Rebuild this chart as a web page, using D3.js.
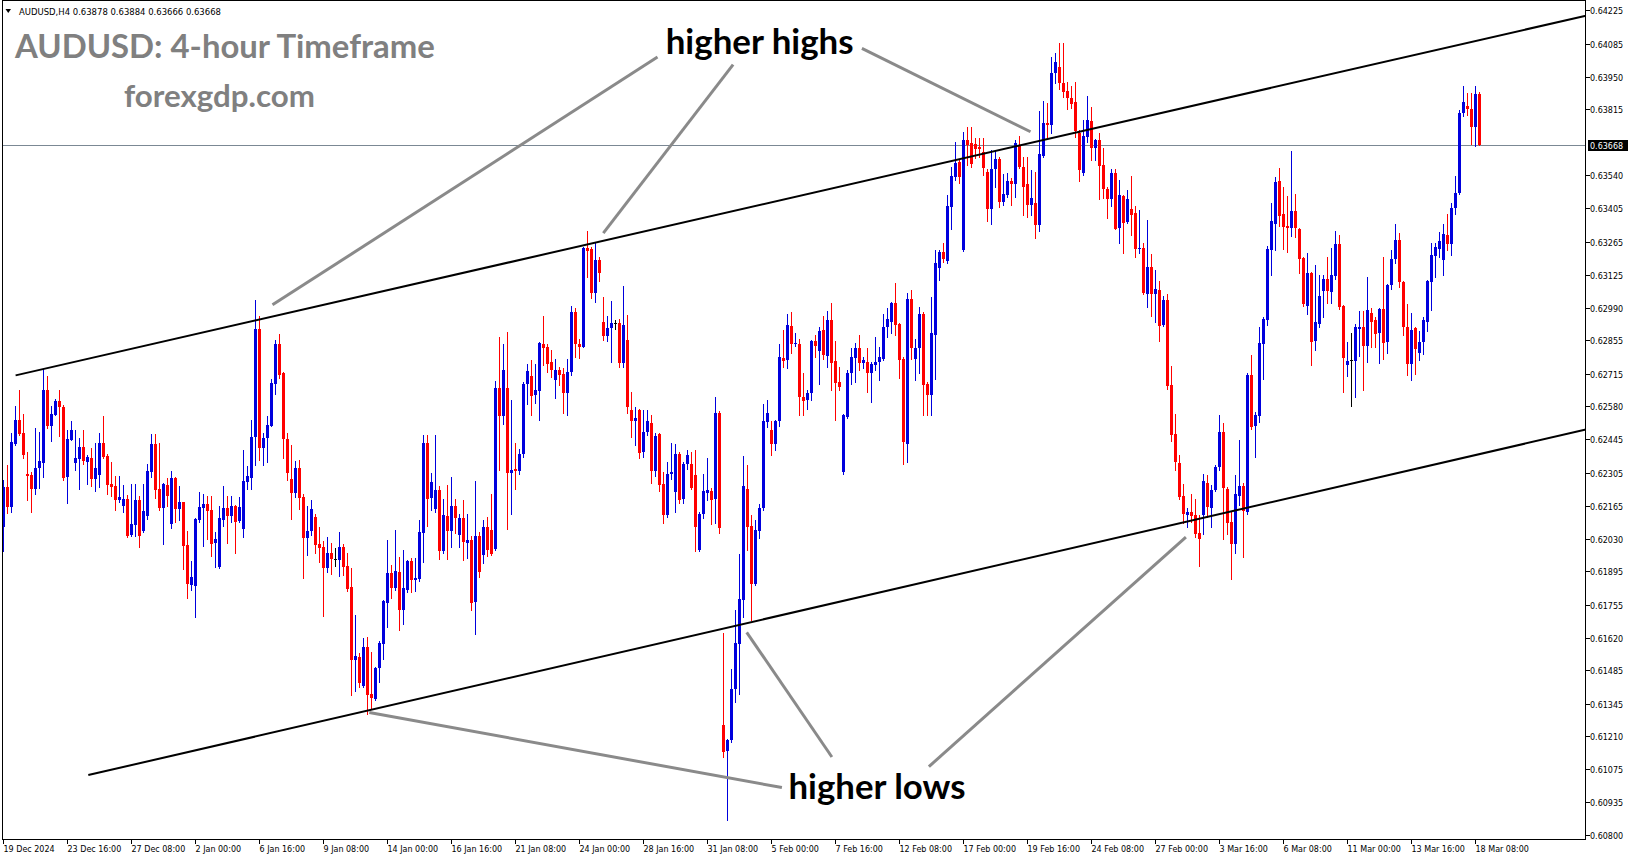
<!DOCTYPE html>
<html><head><meta charset="utf-8">
<script src="https://cdn.jsdelivr.net/npm/d3@7"></script>
<style>html,body{margin:0;padding:0;background:#fff;overflow:hidden}svg{display:block}</style>
</head><body>
<svg id="chart" width="1631" height="861"></svg>
<script>
// ---------- DATA (AUDUSD H4, bar 0 = 19 Dec 2024 00:00) ----------
const opens = [
0.62080,0.62246,0.62163,0.62426,0.62523,0.62468,0.62299,0.62294,0.62236,0.62325,
0.62345,0.62647,0.62498,0.62543,0.62602,0.62578,0.62287,0.62442,0.62345,0.62361,
0.62410,0.62349,0.62365,0.62279,0.62296,0.62427,0.62373,0.62257,0.62249,0.62191,
0.62167,0.62195,0.62045,0.62088,0.62191,0.62061,0.62124,0.62308,0.62423,0.62236,
0.62157,0.62253,0.62091,0.62282,0.62155,0.62182,0.62004,0.61839,0.61833,0.62107,
0.62157,0.62174,0.62149,0.62012,0.61914,0.62107,0.62157,0.62124,0.62166,0.62103,
0.62070,0.62267,0.62282,0.62454,0.62901,0.62409,0.62450,0.62500,0.62674,0.62839,
0.62718,0.62444,0.62278,0.62220,0.62324,0.62203,0.62033,0.62062,0.62120,0.62008,
0.61995,0.61908,0.61971,0.61946,0.61942,0.61995,0.61916,0.61829,0.61526,0.61538,
0.61418,0.61580,0.61384,0.61364,0.61493,0.61592,0.61763,0.61887,0.61825,0.61892,
0.61734,0.61817,0.61937,0.61858,0.61862,0.62053,0.62427,0.62199,0.62155,0.62232,
0.61979,0.62124,0.62062,0.62166,0.62045,0.62116,0.62012,0.62024,0.61767,0.62041,
0.61962,0.62080,0.62066,0.61986,0.62655,0.62540,0.62655,0.62304,0.62322,0.62313,
0.62382,0.62672,0.62706,0.62627,0.62645,0.62841,0.62828,0.62765,0.62689,0.62733,
0.62714,0.62637,0.62724,0.62973,0.62841,0.62828,0.63239,0.63233,0.63052,0.63190,
0.62930,0.62872,0.62907,0.62925,0.62925,0.62761,0.62855,0.62564,0.62520,0.62564,
0.62391,0.62474,0.62513,0.62312,0.62465,0.62257,0.62128,0.62301,0.62225,0.62382,
0.62197,0.62340,0.62340,0.62294,0.61983,0.62135,0.62221,0.62228,0.62197,0.62551,
0.61256,0.61149,0.61193,0.61408,0.61595,0.61775,0.62239,0.62083,0.61842,0.62062,
0.62159,0.62516,0.62484,0.62422,0.62520,0.62780,0.62772,0.62914,0.62841,0.62841,
0.62620,0.62606,0.62634,0.62853,0.62811,0.62897,0.62791,0.62938,0.62770,0.62682,
0.62308,0.62537,0.62717,0.62783,0.62821,0.62759,0.62765,0.62720,0.62752,0.62765,
0.62779,0.62908,0.62932,0.63011,0.62922,0.62779,0.62426,0.63028,0.62779,0.62821,
0.62966,0.62675,0.62627,0.62876,0.63153,0.63222,0.63185,0.63409,0.63534,0.63596,
0.63229,0.63686,0.63673,0.63670,0.63659,0.63638,0.63555,0.63402,0.63565,0.63606,
0.63430,0.63458,0.63517,0.63506,0.63666,0.63576,0.63503,0.63416,0.63423,0.63333,
0.63620,0.63757,0.63749,0.63963,0.63991,0.63925,0.63891,0.63860,0.63846,0.63717,
0.63551,0.63700,0.63765,0.63654,0.63686,0.63582,0.63485,0.63441,0.63551,0.63322,
0.63453,0.63347,0.63402,0.63382,0.63232,0.63239,0.63047,0.63160,0.63046,0.63063,
0.62918,0.63021,0.62668,0.62465,0.62346,0.62207,0.62128,0.62140,0.62128,0.62055,
0.62128,0.62262,0.62160,0.62235,0.62329,0.62474,0.62239,0.62100,0.62010,0.62207,
0.62249,0.62142,0.62710,0.62498,0.62540,0.62839,0.62941,0.63229,0.63337,0.63516,
0.63379,0.63330,0.63323,0.63391,0.63316,0.63197,0.62998,0.63135,0.62852,0.62922,
0.63060,0.63111,0.63056,0.63121,0.63254,0.62998,0.62751,0.62772,0.62770,0.62900,
0.62908,0.62830,0.62969,0.62938,0.62883,0.62986,0.62848,0.63084,0.63194,0.63271,
0.63097,0.62908,0.62755,0.62904,0.62802,0.62848,0.62931,0.63098,0.63204,0.63236,
0.63188,0.63292,0.63254,0.63405,0.63465,0.63797,0.63828,0.63814,0.63741,0.63878];

const highs = [
0.62274,0.62336,0.62468,0.62581,0.62650,0.62548,0.62391,0.62308,0.62492,0.62473,
0.62737,0.62705,0.62581,0.62610,0.62647,0.62585,0.62484,0.62518,0.62484,0.62449,
0.62481,0.62377,0.62409,0.62428,0.62468,0.62540,0.62384,0.62348,0.62290,0.62290,
0.62253,0.62213,0.62257,0.62257,0.62207,0.62257,0.62340,0.62465,0.62465,0.62427,
0.62262,0.62283,0.62311,0.62287,0.62250,0.62185,0.62062,0.61937,0.62117,0.62224,
0.62215,0.62207,0.62207,0.62058,0.62167,0.62249,0.62207,0.62207,0.62170,0.62204,
0.62398,0.62332,0.62523,0.63022,0.62955,0.62468,0.62540,0.62692,0.62855,0.62880,
0.62722,0.62469,0.62419,0.62353,0.62357,0.62216,0.62166,0.62191,0.62133,0.62079,
0.62022,0.62037,0.62012,0.61991,0.62058,0.62008,0.61971,0.61908,0.61713,0.61555,
0.61617,0.61621,0.61559,0.61497,0.61605,0.61775,0.62024,0.61921,0.62066,0.61954,
0.61983,0.61941,0.61950,0.61950,0.62108,0.62461,0.62460,0.62303,0.62461,0.62249,
0.62195,0.62253,0.62286,0.62195,0.62133,0.62191,0.62133,0.62041,0.62270,0.62060,
0.62110,0.62120,0.62218,0.62685,0.62869,0.62841,0.62890,0.62606,0.62429,0.62405,
0.62680,0.62756,0.62772,0.62756,0.62849,0.62955,0.62839,0.62814,0.62779,0.62745,
0.62738,0.62779,0.62997,0.62990,0.62862,0.63243,0.63308,0.63243,0.63257,0.63201,
0.63035,0.62955,0.63017,0.62941,0.62945,0.63080,0.62959,0.62641,0.62578,0.62571,
0.62564,0.62564,0.62546,0.62470,0.62470,0.62308,0.62350,0.62430,0.62426,0.62389,
0.62350,0.62400,0.62392,0.62398,0.62142,0.62301,0.62364,0.62243,0.62620,0.62560,
0.61637,0.61200,0.61491,0.61736,0.61969,0.62373,0.62336,0.62128,0.62107,0.62174,
0.62592,0.62606,0.62520,0.62525,0.62841,0.62897,0.62966,0.62973,0.62883,0.62860,
0.62717,0.62650,0.62856,0.62876,0.62911,0.62955,0.62976,0.63011,0.62850,0.62745,
0.62550,0.62731,0.62821,0.62842,0.62876,0.62787,0.62821,0.62765,0.62869,0.62828,
0.62966,0.62987,0.63015,0.63091,0.62925,0.62787,0.63052,0.63063,0.62862,0.62994,
0.62973,0.62682,0.63035,0.63229,0.63229,0.63257,0.63458,0.63576,0.63680,0.63603,
0.63721,0.63739,0.63739,0.63693,0.63697,0.63697,0.63565,0.63645,0.63642,0.63617,
0.63545,0.63548,0.63527,0.63686,0.63703,0.63617,0.63617,0.63562,0.63555,0.63808,
0.63850,0.63840,0.64030,0.64046,0.64088,0.64088,0.63929,0.63911,0.63929,0.63730,
0.63769,0.63870,0.63825,0.63690,0.63714,0.63654,0.63490,0.63566,0.63566,0.63520,
0.63458,0.63481,0.63537,0.63412,0.63395,0.63257,0.63354,0.63213,0.63146,0.63100,
0.63038,0.63046,0.62747,0.62548,0.62377,0.62257,0.62160,0.62215,0.62197,0.62128,
0.62301,0.62295,0.62253,0.62336,0.62544,0.62512,0.62246,0.62140,0.62294,0.62440,
0.62260,0.62717,0.62793,0.62558,0.62908,0.62952,0.63246,0.63426,0.63534,0.63571,
0.63492,0.63453,0.63642,0.63462,0.63320,0.63200,0.63218,0.63140,0.63167,0.63125,
0.63125,0.63201,0.63240,0.63308,0.63291,0.63000,0.62848,0.62883,0.62922,0.62977,
0.62977,0.63118,0.62990,0.62952,0.62990,0.63201,0.63087,0.63229,0.63337,0.63301,
0.63100,0.63005,0.62969,0.62911,0.62894,0.62952,0.63107,0.63257,0.63257,0.63305,
0.63337,0.63381,0.63423,0.63537,0.63811,0.63910,0.63880,0.63883,0.63910,0.63884];

const lows = [
0.61980,0.62138,0.62142,0.62419,0.62461,0.62364,0.62191,0.62140,0.62215,0.62241,
0.62287,0.62492,0.62437,0.62543,0.62458,0.62276,0.62179,0.62440,0.62315,0.62236,
0.62340,0.62259,0.62251,0.62229,0.62246,0.62364,0.62218,0.62207,0.62149,0.62182,
0.62140,0.62038,0.62041,0.62041,0.61996,0.62059,0.62111,0.62287,0.62199,0.62149,
0.62008,0.62167,0.62074,0.62099,0.62107,0.61904,0.61785,0.61817,0.61704,0.62101,
0.62001,0.62031,0.61958,0.61914,0.61911,0.62085,0.62012,0.62101,0.61970,0.62099,
0.62037,0.62238,0.62238,0.62336,0.62357,0.62336,0.62349,0.62499,0.62631,0.62700,
0.62365,0.62274,0.62112,0.62203,0.62153,0.61867,0.61962,0.62045,0.61971,0.61933,
0.61709,0.61892,0.61883,0.61917,0.61875,0.61879,0.61813,0.61380,0.61397,0.61414,
0.61414,0.61301,0.61326,0.61360,0.61434,0.61530,0.61663,0.61784,0.61817,0.61651,
0.61676,0.61808,0.61808,0.61812,0.61855,0.61933,0.62083,0.62149,0.62140,0.61946,
0.61970,0.61946,0.61995,0.62054,0.61995,0.61941,0.61950,0.61734,0.61634,0.61870,
0.61930,0.61960,0.61962,0.61983,0.62315,0.62509,0.62073,0.62135,0.62239,0.62300,
0.62370,0.62592,0.62544,0.62595,0.62523,0.62754,0.62724,0.62703,0.62616,0.62668,
0.62551,0.62544,0.62710,0.62786,0.62783,0.62825,0.63118,0.63031,0.63015,0.63102,
0.62855,0.62850,0.62765,0.62900,0.62745,0.62745,0.62551,0.62454,0.62419,0.62364,
0.62370,0.62460,0.62263,0.62290,0.62230,0.62096,0.62120,0.62280,0.62142,0.62180,
0.62180,0.62320,0.62238,0.61980,0.61980,0.62118,0.62190,0.62091,0.62094,0.62055,
0.61124,0.60861,0.61186,0.61353,0.61387,0.61706,0.61983,0.61695,0.61837,0.62035,
0.62150,0.62495,0.62377,0.62398,0.62500,0.62744,0.62738,0.62800,0.62830,0.62544,
0.62544,0.62570,0.62606,0.62786,0.62675,0.62779,0.62745,0.62648,0.62523,0.62648,
0.62300,0.62530,0.62675,0.62682,0.62731,0.62738,0.62641,0.62599,0.62731,0.62689,
0.62772,0.62869,0.62883,0.62876,0.62700,0.62343,0.62350,0.62779,0.62689,0.62717,
0.62544,0.62544,0.62544,0.62696,0.63105,0.63181,0.63177,0.63319,0.63520,0.63509,
0.63226,0.63583,0.63576,0.63610,0.63617,0.63541,0.63351,0.63337,0.63492,0.63409,
0.63416,0.63450,0.63416,0.63451,0.63569,0.63375,0.63365,0.63375,0.63278,0.63310,
0.63617,0.63700,0.63717,0.63922,0.63900,0.63864,0.63814,0.63820,0.63700,0.63517,
0.63540,0.63679,0.63603,0.63603,0.63440,0.63444,0.63364,0.63412,0.63315,0.63257,
0.63218,0.63343,0.63292,0.63199,0.63218,0.63049,0.62994,0.62955,0.62931,0.62852,
0.62913,0.62654,0.62437,0.62315,0.62197,0.62096,0.62080,0.62100,0.62038,0.61916,
0.62052,0.62121,0.62080,0.62230,0.62318,0.62031,0.62052,0.61865,0.61972,0.62170,
0.61955,0.62135,0.62488,0.62370,0.62516,0.62696,0.62918,0.63125,0.63229,0.63329,
0.63236,0.63222,0.63289,0.63284,0.63135,0.62996,0.62963,0.62751,0.62816,0.62911,
0.62952,0.63010,0.63010,0.63111,0.62983,0.62640,0.62706,0.62581,0.62620,0.62789,
0.62650,0.62765,0.62827,0.62827,0.62761,0.62779,0.62802,0.63066,0.63176,0.63077,
0.62876,0.62710,0.62689,0.62714,0.62775,0.62797,0.62894,0.62980,0.63118,0.63201,
0.63125,0.63229,0.63208,0.63379,0.63462,0.63786,0.63790,0.63670,0.63661,0.63666];

const closes = [
0.62246,0.62163,0.62433,0.62523,0.62465,0.62378,0.62292,0.62236,0.62326,0.62352,
0.62647,0.62498,0.62548,0.62602,0.62578,0.62281,0.62444,0.62481,0.62365,0.62410,
0.62354,0.62370,0.62279,0.62323,0.62427,0.62369,0.62254,0.62246,0.62191,0.62203,
0.62195,0.62041,0.62091,0.62191,0.62041,0.62144,0.62311,0.62423,0.62233,0.62157,
0.62257,0.62207,0.62282,0.62153,0.62182,0.62001,0.61842,0.61871,0.62112,0.62162,
0.62174,0.62144,0.62008,0.62029,0.62116,0.62157,0.62124,0.62166,0.62099,0.62162,
0.62270,0.62290,0.62452,0.62901,0.62409,0.62450,0.62502,0.62677,0.62839,0.62711,
0.62444,0.62303,0.62220,0.62324,0.62199,0.62033,0.62062,0.62153,0.62004,0.61991,
0.61908,0.61971,0.61946,0.61946,0.61995,0.61912,0.61821,0.61526,0.61542,0.61430,
0.61580,0.61380,0.61368,0.61493,0.61597,0.61771,0.61887,0.61825,0.61896,0.61734,
0.61825,0.61937,0.61858,0.61866,0.62058,0.62427,0.62195,0.62265,0.62232,0.61979,
0.62128,0.62062,0.62166,0.62116,0.62116,0.62016,0.62024,0.61763,0.62041,0.61893,
0.62080,0.61983,0.61969,0.62655,0.62540,0.62731,0.62304,0.62318,0.62313,0.62382,
0.62672,0.62726,0.62625,0.62648,0.62844,0.62823,0.62758,0.62731,0.62733,0.62710,
0.62637,0.62724,0.62973,0.62841,0.62825,0.63239,0.63226,0.63052,0.63190,0.63135,
0.62872,0.62907,0.62927,0.62925,0.62761,0.62918,0.62576,0.62520,0.62530,0.62387,
0.62472,0.62519,0.62312,0.62456,0.62253,0.62128,0.62301,0.62308,0.62382,0.62190,
0.62343,0.62380,0.62243,0.62080,0.62135,0.62229,0.62232,0.62193,0.62551,0.62076,
0.61145,0.61196,0.61408,0.61598,0.61782,0.62249,0.62080,0.61842,0.62066,0.62159,
0.62519,0.62551,0.62422,0.62520,0.62786,0.62768,0.62918,0.62841,0.62845,0.62620,
0.62603,0.62634,0.62853,0.62830,0.62893,0.62793,0.62938,0.62761,0.62678,0.62662,
0.62544,0.62717,0.62786,0.62821,0.62761,0.62775,0.62720,0.62758,0.62765,0.62786,
0.62911,0.62945,0.63011,0.62918,0.62772,0.62433,0.63028,0.62821,0.62821,0.62966,
0.62668,0.62627,0.62883,0.63177,0.63222,0.63191,0.63412,0.63537,0.63592,0.63531,
0.63686,0.63666,0.63589,0.63648,0.63648,0.63569,0.63402,0.63565,0.63606,0.63430,
0.63462,0.63517,0.63506,0.63675,0.63573,0.63492,0.63416,0.63444,0.63333,0.63628,
0.63758,0.63750,0.63966,0.64012,0.63922,0.63887,0.63860,0.63836,0.63725,0.63562,
0.63703,0.63769,0.63654,0.63686,0.63580,0.63483,0.63441,0.63551,0.63319,0.63458,
0.63343,0.63440,0.63377,0.63232,0.63239,0.63052,0.63160,0.63046,0.63067,0.62913,
0.63021,0.62664,0.62461,0.62350,0.62204,0.62135,0.62142,0.62125,0.62049,0.62031,
0.62269,0.62163,0.62235,0.62329,0.62474,0.62243,0.62094,0.62010,0.62215,0.62249,
0.62146,0.62710,0.62495,0.62544,0.62842,0.62945,0.63232,0.63350,0.63513,0.63372,
0.63326,0.63323,0.63391,0.63323,0.63194,0.63005,0.63135,0.62848,0.62931,0.63038,
0.63109,0.63060,0.63125,0.63254,0.62991,0.62783,0.62768,0.62772,0.62908,0.62911,
0.62830,0.62980,0.62931,0.62880,0.62984,0.62844,0.63084,0.63194,0.63271,0.63097,
0.62908,0.62755,0.62897,0.62820,0.62848,0.62938,0.63102,0.63208,0.63243,0.63268,
0.63296,0.63254,0.63405,0.63465,0.63800,0.63843,0.63814,0.63741,0.63877,0.63668];

const xTickLabels = ["19 Dec 2024","23 Dec 16:00","27 Dec 08:00","2 Jan 00:00","6 Jan 16:00","9 Jan 08:00",
"14 Jan 00:00","16 Jan 16:00","21 Jan 08:00","24 Jan 00:00","28 Jan 16:00","31 Jan 08:00","5 Feb 00:00",
"7 Feb 16:00","12 Feb 08:00","17 Feb 00:00","19 Feb 16:00","24 Feb 08:00","27 Feb 00:00","3 Mar 16:00",
"6 Mar 08:00","11 Mar 00:00","13 Mar 16:00","18 Mar 08:00"];
const barsPerXTick = 16;
const yTickValues = [0.64225,0.64085,0.63950,0.63815,0.63540,0.63405,0.63265,0.63125,0.62990,0.62855,
0.62715,0.62580,0.62445,0.62305,0.62165,0.62030,0.61895,0.61755,0.61620,0.61485,0.61345,0.61210,
0.61075,0.60935,0.60800];
const lastPrice = 0.63668;
const headerText = "AUDUSD,H4  0.63878 0.63884 0.63666 0.63668";
const titleText = "AUDUSD: 4-hour Timeframe";
const siteText = "forexgdp.com";

// trend channel lines: [bar index, price]
const upperChannel = [[3.03, 0.62709], [395.6, 0.64203]];
const lowerChannel = [[21.2, 0.61049], [395.6, 0.62484]];
// annotation labels (left baseline anchor, in bar index / price)
const highsNote = {text: "higher highs", bar: 165.55, price: 0.64044, width: 188};
const lowsNote  = {text: "higher lows",  bar: 196.25, price: 0.60950, width: 177};
const highsPointers = [
  [[163.5, 0.64031], [67.25, 0.63002]],
  [[182.4, 0.64000], [149.95, 0.63300]],
  [[214.6, 0.64067], [256.75, 0.63721]]];
const lowsPointers = [
  [[194.6, 0.60997], [91.45, 0.61309]],
  [[207.1, 0.61124], [185.8, 0.61642]],
  [[231.35, 0.61084], [295.6, 0.62037]]];

// ---------- DRAW ----------
const bull = "#0000dd", bear = "#ff0000";
const axisX = 1585.5, frameBottom = 839.5, frameLeft = 2.5;
const svg = d3.select("#chart");
const x = d3.scaleLinear().domain([-0.875, 395.625]).range([0, 1586]);
const y = d3.scaleLinear().domain([0.60800, 0.64225]).range([835, 10.4]);
const uiFont = "'DejaVu Sans', sans-serif";

svg.append("defs").append("clipPath").attr("id","plotclip")
  .append("rect").attr("x",frameLeft).attr("y",0).attr("width",axisX-frameLeft).attr("height",frameBottom);

// current price line
svg.append("line").attr("x1",frameLeft).attr("x2",axisX).attr("y1",Math.round(y(lastPrice))+0.5).attr("y2",Math.round(y(lastPrice))+0.5)
  .attr("stroke","#7b8894").attr("stroke-width",1).attr("shape-rendering","crispEdges");

const candles = closes.map((c,i)=>({i, o:opens[i], h:highs[i], l:lows[i], c}));
const col = d => d.c > d.o ? bull : (d.c < d.o ? bear : "#000");
const cg = svg.append("g").attr("clip-path","url(#plotclip)").attr("shape-rendering","crispEdges");
cg.selectAll("line.wick").data(candles).join("line").attr("class","wick")
  .attr("x1",d=>x(d.i)).attr("x2",d=>x(d.i))
  .attr("y1",d=>Math.round(y(d.h))).attr("y2",d=>Math.round(y(d.l))+1)
  .attr("stroke",col).attr("stroke-width",1);
cg.selectAll("rect.body").data(candles).join("rect").attr("class","body")
  .attr("x",d=>x(d.i)-1.5).attr("width",3)
  .attr("y",d=>Math.round(y(Math.max(d.o,d.c))))
  .attr("height",d=>Math.max(1, Math.round(y(Math.min(d.o,d.c))) - Math.round(y(Math.max(d.o,d.c)))))
  .attr("fill",col);

// channel lines
const lineGen = d3.line().x(d=>x(d[0])).y(d=>y(d[1]));
const og = svg.append("g").attr("clip-path","url(#plotclip)");
[upperChannel, lowerChannel].forEach(l=>{
  og.append("path").attr("d",lineGen(l)).attr("stroke","#000").attr("stroke-width",2).attr("fill","none");
});
// pointer lines
[...highsPointers, ...lowsPointers].forEach(l=>{
  og.append("path").attr("d",lineGen(l)).attr("stroke","#8a8a8a").attr("stroke-width",3).attr("fill","none");
});

function fitWidth(t, w){
  const m = t.node().getComputedTextLength();
  if (m>0) t.attr("font-size", parseFloat(t.attr("font-size"))*w/m);
}
[highsNote, lowsNote].forEach(n=>{
  const t = svg.append("text").attr("x",x(n.bar)).attr("y",y(n.price))
    .attr("font-family","Lato, 'Open Sans', sans-serif").attr("font-weight","bold")
    .attr("font-size",32).attr("fill","#000").text(n.text);
  fitWidth(t, n.width);
});

// title texts
const t1 = svg.append("text").attr("x",15).attr("y",58).attr("font-family","Lato, 'Open Sans', sans-serif")
  .attr("font-weight","bold").attr("font-size",32).attr("fill","#808080").text(titleText);
fitWidth(t1, 420);
const t2 = svg.append("text").attr("x",124).attr("y",106.5).attr("font-family","Lato, 'Open Sans', sans-serif")
  .attr("font-weight","bold").attr("font-size",28).attr("fill","#808080").text(siteText);
fitWidth(t2, 191);

// header
svg.append("path").attr("d","M5.5,9 L11,9 L8.25,13 Z").attr("fill","#000");
const th = svg.append("text").attr("x",19).attr("y",14.5).attr("font-family",uiFont).attr("font-size",8).attr("fill","#000").text(headerText);
fitWidth(th, 202);

// frame
const fg = svg.append("g").attr("shape-rendering","crispEdges").attr("stroke","#000").attr("fill","none");
fg.append("line").attr("x1",frameLeft).attr("x2",frameLeft).attr("y1",0).attr("y2",frameBottom);
fg.append("line").attr("x1",frameLeft).attr("x2",axisX).attr("y1",0.5).attr("y2",0.5);
fg.append("line").attr("x1",frameLeft).attr("x2",axisX).attr("y1",frameBottom).attr("y2",frameBottom);
fg.append("line").attr("x1",axisX).attr("x2",axisX).attr("y1",0).attr("y2",frameBottom);

// price axis
const ya = svg.append("g");
yTickValues.forEach(v=>{
  const yy = Math.round(y(v))+0.5;
  ya.append("line").attr("x1",axisX).attr("x2",axisX+4).attr("y1",yy).attr("y2",yy).attr("stroke","#000").attr("shape-rendering","crispEdges");
  ya.append("text").attr("x",1590).attr("y",yy+3).attr("font-family",uiFont).attr("font-size",8).attr("fill","#000").text(v.toFixed(5));
});
// current price box
const lp = Math.round(y(lastPrice));
ya.append("rect").attr("x",axisX+2.5).attr("y",lp-5).attr("width",40).attr("height",11).attr("fill","#000");
ya.append("text").attr("x",1590).attr("y",lp+3.5).attr("font-family",uiFont).attr("font-size",8).attr("fill","#fff").text(lastPrice.toFixed(5));

// time axis
const xa = svg.append("g");
xTickLabels.forEach((lab,k)=>{
  const xx = Math.floor(x(k*barsPerXTick))+0.5;
  xa.append("line").attr("x1",xx).attr("x2",xx).attr("y1",frameBottom).attr("y2",frameBottom+4).attr("stroke","#000").attr("shape-rendering","crispEdges");
  xa.append("text").attr("x",xx).attr("y",852).attr("font-family",uiFont).attr("font-size",8).attr("fill","#000").text(lab);
});
</script>
</body></html>
